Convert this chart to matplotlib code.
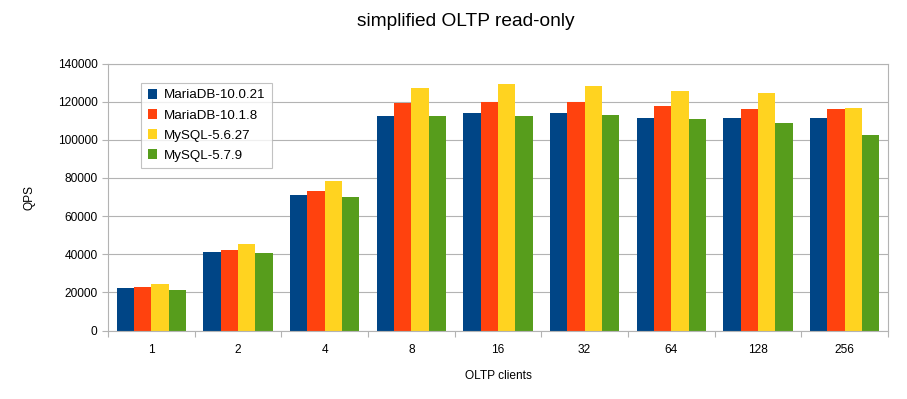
"""simplified OLTP read-only: QPS by client count."""

import matplotlib

matplotlib.use("Agg")
import matplotlib.pyplot as plt
import numpy as np

clients = ["1", "2", "4", "8", "16", "32", "64", "128", "256"]
series_names = ["MariaDB-10.0.21", "MariaDB-10.1.8", "MySQL-5.6.27", "MySQL-5.7.9"]
mariadb_10021 = [22100, 41200, 70900, 112600, 114000, 113800, 111400, 111400, 111600]
mariadb_1018 = [22800, 42100, 73000, 119300, 119800, 120000, 117500, 116300, 115900]
mysql_5627 = [24400, 45400, 78200, 127200, 129300, 128000, 125800, 124400, 116500]
mysql_579 = [21400, 40500, 70000, 112600, 112600, 113100, 110900, 108800, 102400]

colors = ["#004586", "#ff420e", "#ffd320", "#579d1c"]
grid_color = "#b3b3b3"

plt.rcParams["font.family"] = ["Liberation Sans", "DejaVu Sans"]

fig = plt.figure(figsize=(9.07, 3.99), dpi=100)
ax = fig.add_axes([108 / 907, 1 - 330.5 / 399, 780 / 907, 267 / 399])

x = np.arange(len(clients))
width = 0.2
all_series = [mariadb_10021, mariadb_1018, mysql_5627, mysql_579]
for i, (name, values) in enumerate(zip(series_names, all_series)):
    ax.bar(x + (i - 1.5) * width, values, width, label=name, color=colors[i], zorder=2)

ax.set_xlim(-0.5, len(clients) - 0.5)
ax.set_ylim(0, 140000)
ax.set_yticks(np.arange(0, 140001, 20000))
ax.yaxis.grid(True, color=grid_color, linewidth=0.8, zorder=0)
ax.tick_params(axis="y", length=4.5, color=grid_color, labelsize=8.6, pad=3)

# group boundaries get the tick marks, labels sit at group centres
ax.set_xticks(np.arange(-0.5, len(clients), 1.0))
ax.set_xticklabels([])
ax.set_xticks(x, minor=True)
ax.set_xticklabels(clients, minor=True)
ax.tick_params(axis="x", which="major", length=4, color=grid_color)
ax.tick_params(axis="x", which="minor", length=0, labelsize=8.6, pad=10)

for spine in ax.spines.values():
    spine.set_color(grid_color)
    spine.set_linewidth(0.8)

ax.set_xlabel("OLTP clients", fontsize=8.6, labelpad=9.5)
ax.set_ylabel("QPS", fontsize=8.6, labelpad=16)
fig.text(466 / 907, 1 - 21 / 399, "simplified OLTP read-only", fontsize=13.8,
         ha="center", va="center")

leg = ax.legend(loc="upper left", bbox_to_anchor=(33 / 780, 1 - 19 / 267),
                fontsize=9.6, frameon=True, fancybox=False, borderaxespad=0,
                handlelength=0.7, handleheight=0.7, handletextpad=0.5,
                labelspacing=0.58, borderpad=0.5)
leg.get_frame().set_edgecolor(grid_color)
leg.get_frame().set_linewidth(0.8)

fig.savefig("out.png", dpi=100)
